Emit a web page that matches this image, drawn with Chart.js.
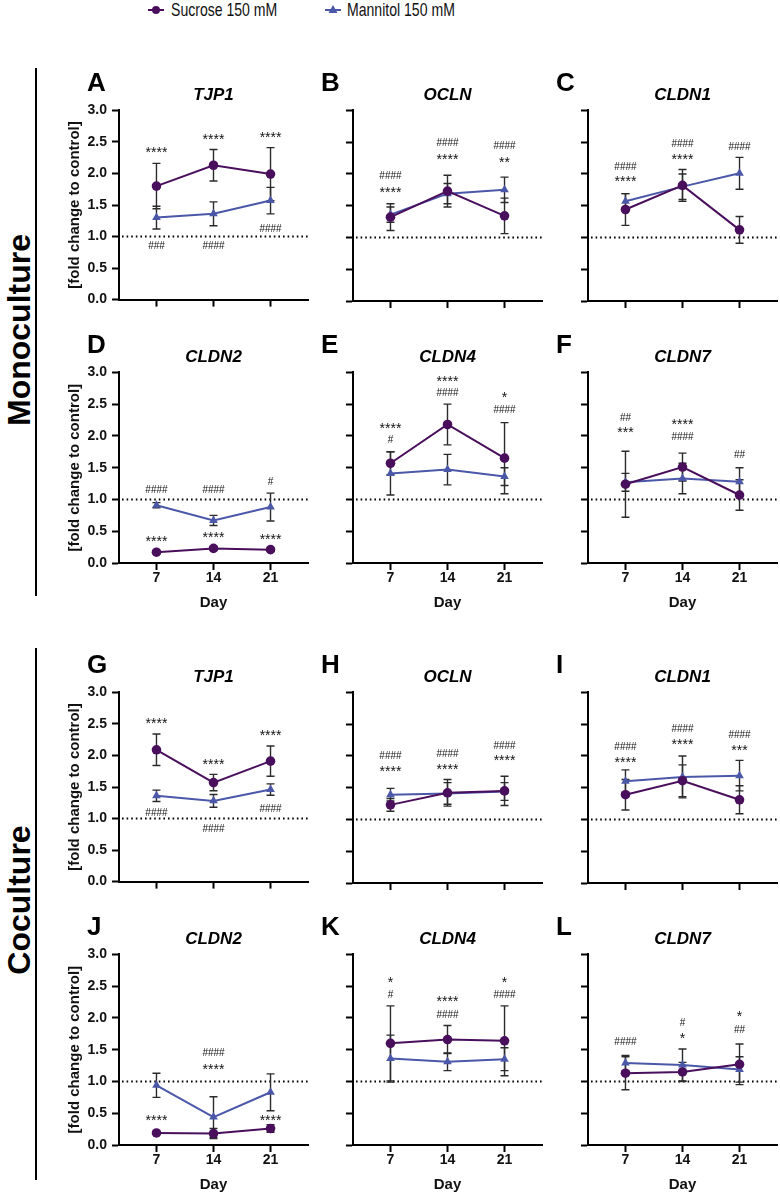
<!DOCTYPE html>
<html>
<head>
<meta charset="utf-8">
<script src="https://cdn.jsdelivr.net/npm/chart.js@4.4.1/dist/chart.umd.min.js"></script>
<style>
  body { margin: 0; background: #fff; width: 780px; height: 1195px; position: relative; overflow: hidden;
         font-family: "Liberation Sans", Arial, sans-serif; }
  canvas { position: absolute; }
  .letter { position: absolute; font-weight: bold; font-size: 26px; line-height: 26px; color: #000; }
  .group { position: absolute; font-weight: bold; font-size: 32px; white-space: nowrap;
           transform: translate(-50%, -50%) rotate(-90deg); color: #000; }
  .bar { position: absolute; width: 2px; background: #000; }
  .legend { position: absolute; top: -1px; font-size: 19px; color: #111; line-height: 22px;
            white-space: nowrap; transform-origin: 0 50%; transform: scaleX(0.74); }
</style>
</head>
<body>

<div class="legend" style="left:171px">Sucrose 150 mM</div>
<svg style="position:absolute;left:146px;top:2px" width="20" height="16">
  <line x1="2" y1="8" x2="18" y2="8" stroke="#4a0f5c" stroke-width="2"/>
  <circle cx="10" cy="8" r="4" fill="#4a0f5c"/>
</svg>
<div class="legend" style="left:347px">Mannitol 150 mM</div>
<svg style="position:absolute;left:323px;top:2px" width="20" height="16">
  <line x1="2" y1="8" x2="18" y2="8" stroke="#4b57a8" stroke-width="2"/>
  <polygon points="10,3 14.5,11 5.5,11" fill="#4b57a8"/>
</svg>

<div class="group" style="left:19px;top:330px">Monoculture</div>
<div class="bar" style="left:35px;top:68px;height:528px"></div>
<div class="group" style="left:19px;top:900px">Coculture</div>
<div class="bar" style="left:35px;top:648px;height:532px"></div>

<script>
// x categories (days)
const days = [7, 14, 21];
const yTicks = [0, 0.5, 1.0, 1.5, 2.0, 2.5, 3.0];

// Monoculture: mean and SD of fold change, sucrose (suc) and mannitol (man)
const aSuc = [1.80, 2.13, 1.99], aSucSd = [0.36, 0.25, 0.42];
const aMan = [1.30, 1.36, 1.57], aManSd = [0.18, 0.19, 0.21];
const bSuc = [1.32, 1.73, 1.34], bSucSd = [0.21, 0.25, 0.28];
const bMan = [1.36, 1.69, 1.75], bManSd = [0.12, 0.16, 0.20];
const cSuc = [1.44, 1.82, 1.12], cSucSd = [0.25, 0.25, 0.21];
const cMan = [1.57, 1.80, 2.01], cManSd = [0.12, 0.20, 0.25];
const dSuc = [0.17, 0.23, 0.21], dSucSd = [0.02, 0.03, 0.02];
const dMan = [0.91, 0.67, 0.88], dManSd = [0.04, 0.08, 0.22];
const eSuc = [1.57, 2.18, 1.65], eSucSd = [0.18, 0.32, 0.56];
const eMan = [1.41, 1.47, 1.36], eManSd = [0.34, 0.24, 0.14];
const fSuc = [1.24, 1.51, 1.07], fSucSd = [0.52, 0.22, 0.24];
const fMan = [1.27, 1.33, 1.28], fManSd = [0.14, 0.24, 0.22];

// Coculture
const gSuc = [2.09, 1.57, 1.91], gSucSd = [0.25, 0.13, 0.24];
const gMan = [1.36, 1.28, 1.46], gManSd = [0.09, 0.10, 0.09];
const hSuc = [1.23, 1.42, 1.45], hSucSd = [0.10, 0.21, 0.23];
const hMan = [1.39, 1.41, 1.44], hManSd = [0.10, 0.17, 0.14];
const iSuc = [1.39, 1.61, 1.31], iSucSd = [0.24, 0.25, 0.22];
const iMan = [1.60, 1.67, 1.69], iManSd = [0.18, 0.33, 0.24];
const jSuc = [0.19, 0.18, 0.26], jSucSd = [0.02, 0.08, 0.06];
const jMan = [0.94, 0.44, 0.83], jManSd = [0.19, 0.32, 0.29];
const kSuc = [1.60, 1.66, 1.64], kSucSd = [0.59, 0.22, 0.55];
const kMan = [1.36, 1.31, 1.35], kManSd = [0.37, 0.14, 0.18];
const lSuc = [1.13, 1.15, 1.27], lSucSd = [0.26, 0.15, 0.32];
const lMan = [1.29, 1.26, 1.19], lManSd = [0.12, 0.25, 0.20];

// significance marks: [day index, y value, text]
const aMarks = [[0, 2.37, '****'], [1, 2.58, '****'], [2, 2.61, '****'], [0, 0.85, '###'], [1, 0.85, '####'], [2, 1.12, '####']];
const bMarks = [[0, 1.96, '####'], [0, 1.75, '****'], [1, 2.49, '####'], [1, 2.27, '****'], [2, 2.43, '####'], [2, 2.22, '**']];
const cMarks = [[0, 2.10, '####'], [0, 1.92, '****'], [1, 2.47, '####'], [1, 2.27, '****'], [2, 2.42, '####']];
const dMarks = [[0, 1.14, '####'], [1, 1.14, '####'], [2, 1.27, '#'], [0, 0.37, '****'], [1, 0.44, '****'], [2, 0.40, '****']];
const eMarks = [[0, 2.16, '****'], [0, 1.93, '#'], [1, 2.89, '****'], [1, 2.67, '####'], [2, 2.64, '*'], [2, 2.40, '####']];
const fMarks = [[0, 2.28, '##'], [0, 2.09, '***'], [1, 2.22, '****'], [1, 1.98, '####'], [2, 1.69, '##']];
const gMarks = [[0, 2.54, '****'], [1, 1.89, '****'], [2, 2.35, '****'], [0, 1.09, '####'], [1, 0.83, '####'], [2, 1.15, '####']];
const hMarks = [[0, 2.00, '####'], [0, 1.79, '****'], [1, 2.02, '####'], [1, 1.82, '****'], [2, 2.16, '####'], [2, 1.96, '****']];
const iMarks = [[0, 2.13, '####'], [0, 1.94, '****'], [1, 2.42, '####'], [1, 2.21, '****'], [2, 2.32, '####'], [2, 2.12, '***']];
const jMarks = [[0, 0.43, '****'], [1, 1.44, '####'], [1, 1.23, '****'], [2, 0.43, '****']];
const kMarks = [[0, 2.60, '*'], [0, 2.36, '#'], [1, 2.30, '****'], [1, 2.04, '####'], [2, 2.60, '*'], [2, 2.35, '####']];
const lMarks = [[0, 1.61, '####'], [1, 1.92, '#'], [1, 1.72, '*'], [2, 2.06, '*'], [2, 1.80, '##']];

const panels = [
  ['A', 'TJP1', aSuc, aSucSd, aMan, aManSd, aMarks],
  ['B', 'OCLN', bSuc, bSucSd, bMan, bManSd, bMarks],
  ['C', 'CLDN1', cSuc, cSucSd, cMan, cManSd, cMarks],
  ['D', 'CLDN2', dSuc, dSucSd, dMan, dManSd, dMarks],
  ['E', 'CLDN4', eSuc, eSucSd, eMan, eManSd, eMarks],
  ['F', 'CLDN7', fSuc, fSucSd, fMan, fManSd, fMarks],
  ['G', 'TJP1', gSuc, gSucSd, gMan, gManSd, gMarks],
  ['H', 'OCLN', hSuc, hSucSd, hMan, hManSd, hMarks],
  ['I', 'CLDN1', iSuc, iSucSd, iMan, iManSd, iMarks],
  ['J', 'CLDN2', jSuc, jSucSd, jMan, jManSd, jMarks],
  ['K', 'CLDN4', kSuc, kSucSd, kMan, kManSd, kMarks],
  ['L', 'CLDN7', lSuc, lSucSd, lMan, lManSd, lMarks]
];

const SUC = '#4a0f5c';
const MAN = '#4b57a8';
const colX = [119, 353, 588];     // y-axis position of each column
const rowTop = [111, 373, 693, 955]; // chart area top of each row
const plotW = 190, plotH = 190, leftW = 80, topH = 50;

// dotted line at 1.0 and SD error bars, under the markers
const errorBars = {
  id: 'errorBars',
  beforeDatasetsDraw(chart) {
    const { ctx, chartArea, scales: { x, y } } = chart;
    ctx.save();
    ctx.strokeStyle = '#000';
    ctx.lineWidth = 2;
    ctx.setLineDash([1.6, 3]);
    ctx.beginPath();
    ctx.moveTo(chartArea.left + 3, y.getPixelForValue(1));
    ctx.lineTo(chartArea.right, y.getPixelForValue(1));
    ctx.stroke();
    ctx.setLineDash([]);
    ctx.strokeStyle = '#2b2b2b';
    ctx.lineWidth = 1.4;
    chart.data.datasets.forEach(ds => {
      ds.data.forEach((p, i) => {
        const px = x.getPixelForValue(p.x);
        const top = y.getPixelForValue(p.y + ds.sd[i]);
        const bot = y.getPixelForValue(p.y - ds.sd[i]);
        ctx.beginPath();
        ctx.moveTo(px, top); ctx.lineTo(px, bot);
        ctx.moveTo(px - 4, top); ctx.lineTo(px + 4, top);
        ctx.moveTo(px - 4, bot); ctx.lineTo(px + 4, bot);
        ctx.stroke();
      });
    });
    ctx.restore();
  }
};

const sigMarks = {
  id: 'sigMarks',
  afterDatasetsDraw(chart, args, opts) {
    const { ctx, scales: { x, y } } = chart;
    ctx.save();
    ctx.fillStyle = '#111';
    ctx.textAlign = 'center';
    ctx.textBaseline = 'middle';
    opts.items.forEach(([i, v, txt]) => {
      const px = x.getPixelForValue(days[i]);
      let py = y.getPixelForValue(v);
      if (txt[0] === '*') {
        ctx.font = '14px "Liberation Sans", Arial, sans-serif';
        py += 3;
      } else {
        ctx.font = '10px "Liberation Sans", Arial, sans-serif';
      }
      ctx.fillText(txt, px, py);
    });
    ctx.restore();
  }
};

panels.forEach((p, n) => {
  const [letter, gene, suc, sucSd, man, manSd, marks] = p;
  const col = n % 3, row = Math.floor(n / 3);
  const showX = row === 1 || row === 3;
  const showY = col === 0;
  const bottomH = showX ? 50 : 10;

  const cv = document.createElement('canvas');
  cv.width = leftW + plotW + 4;
  cv.height = topH + plotH + bottomH + 2;
  cv.style.left = (colX[col] - leftW) + 'px';
  cv.style.top = (rowTop[row] - topH) + 'px';
  document.body.appendChild(cv);

  const lab = document.createElement('div');
  lab.className = 'letter';
  lab.textContent = letter;
  lab.style.left = (colX[col] - 32) + 'px';
  lab.style.top = (rowTop[row] - 42) + 'px';
  document.body.appendChild(lab);

  const tickFont = { family: '"Liberation Sans", Arial, sans-serif', size: 14, weight: 'bold' };

  new Chart(cv, {
    type: 'line',
    data: {
      datasets: [
        {
          label: 'Sucrose 150 mM',
          data: days.map((d, i) => ({ x: d, y: suc[i] })),
          sd: sucSd,
          borderColor: SUC, backgroundColor: SUC,
          borderWidth: 2, pointStyle: 'circle', pointRadius: 4.8, pointBorderWidth: 0
        },
        {
          label: 'Mannitol 150 mM',
          data: days.map((d, i) => ({ x: d, y: man[i] })),
          sd: manSd,
          borderColor: MAN, backgroundColor: MAN,
          borderWidth: 2, pointStyle: 'triangle', pointRadius: 5, pointBorderWidth: 0
        }
      ]
    },
    options: {
      responsive: false,
      animation: false,
      events: [],
      layout: { padding: { left: 0, right: 4, top: 0, bottom: 2 } },
      plugins: {
        legend: { display: false },
        tooltip: { enabled: false },
        title: {
          display: true, text: gene, fullSize: false, color: '#000',
          font: { family: '"Liberation Sans", Arial, sans-serif', size: 17, weight: 'bold', style: 'italic' },
          padding: { top: 24, bottom: 5 }
        },
        sigMarks: { items: marks }
      },
      scales: {
        x: {
          type: 'linear', min: 2.4, max: 25.6,
          afterBuildTicks: s => { s.ticks = days.map(v => ({ value: v })); },
          afterFit: s => { s.height = bottomH; },
          grid: { drawOnChartArea: false, drawTicks: true, tickLength: 7, tickWidth: 2, tickColor: '#000' },
          border: { display: true, color: '#000', width: 2 },
          ticks: { display: showX, padding: 0, color: '#111', font: tickFont },
          title: {
            display: showX, text: 'Day', color: '#111',
            font: { family: '"Liberation Sans", Arial, sans-serif', size: 15, weight: 'bold' },
            padding: { top: 0, bottom: 1 }
          }
        },
        y: {
          min: 0, max: 3,
          afterBuildTicks: s => { s.ticks = yTicks.map(v => ({ value: v })); },
          afterFit: s => { s.width = leftW; },
          grid: { drawOnChartArea: false, drawTicks: true, tickLength: 7, tickWidth: 2, tickColor: '#000' },
          border: { display: true, color: '#000', width: 2 },
          ticks: { display: showY, padding: 5, color: '#111', font: tickFont, callback: v => v.toFixed(1) },
          title: {
            display: showY, text: '[fold change to control]', color: '#111',
            font: { family: '"Liberation Sans", Arial, sans-serif', size: 15, weight: 'bold' },
            padding: { top: 27, bottom: 0 }
          }
        }
      }
    },
    plugins: [errorBars, sigMarks]
  });
});
</script>
</body>
</html>
